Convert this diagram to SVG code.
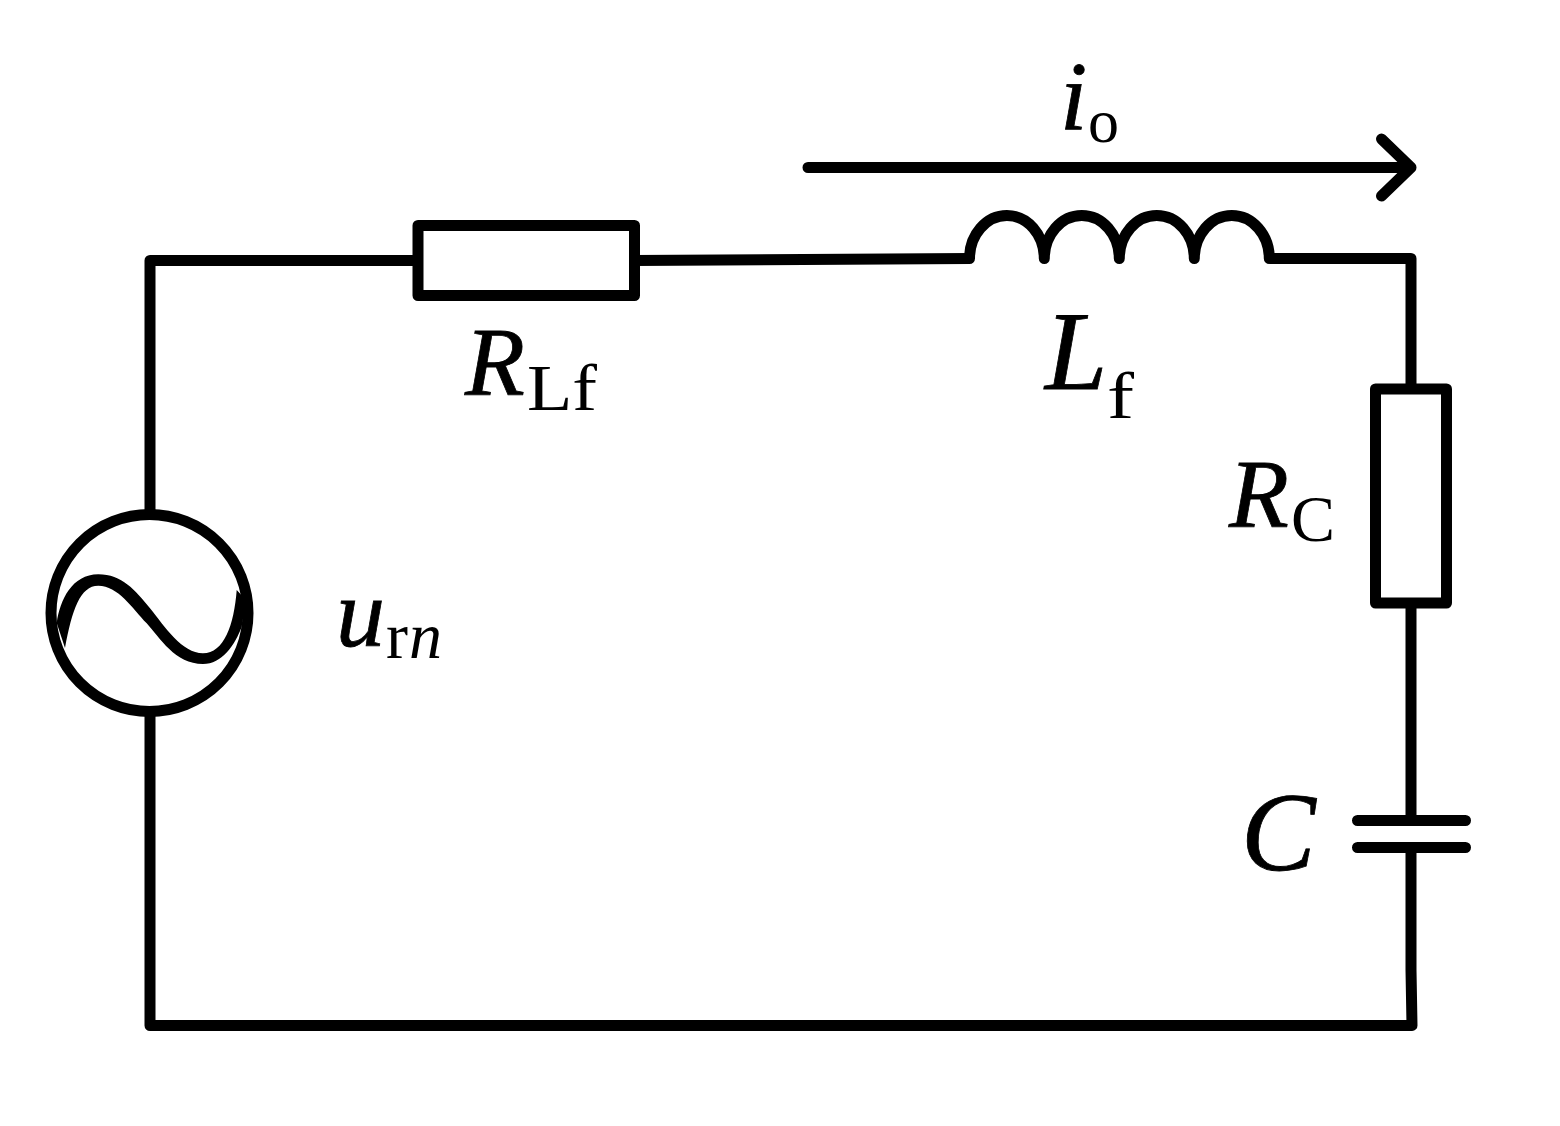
<svg xmlns="http://www.w3.org/2000/svg" width="1560" height="1126" viewBox="0 0 1560 1126">
<style>
.w{fill:none;stroke:#000;stroke-width:11;stroke-linecap:round;stroke-linejoin:round}
.c{fill:none;stroke:#000;stroke-width:11;stroke-linecap:butt;stroke-linejoin:round}
.b{fill:none;stroke:#000;stroke-width:11;stroke-linejoin:round}
text{font-family:"Liberation Serif","Times New Roman",serif;fill:#000}
.i{font-style:italic;font-size:98px;stroke:#000;stroke-width:.8}
.l{font-style:italic;font-size:112px;stroke:#000;stroke-width:.8}
.s{font-size:66px}
.si{font-style:italic;font-size:66px}
</style>
<rect width="1560" height="1126" fill="#fff"/>
<g id="connectors">
<path class="c" d="M150 512V260.500H418M634 260.500L970 258.500M1270 258.500H1411V388M1411 603V820M1411 848V970L1412 1025.500H150V712"/>
<path class="w" d="M808 167.500H1411M1381.500 139L1411 167.500L1381.500 196"/>
</g>
<g id="source"><circle class="b" cx="149.500" cy="613" r="98.500"/>
<path d="M56.700 623C60 600 72 574.300 98.300 574.300C122 574.300 135 590 150 608.300C165 627 182 653.300 203 653.300C224 653.300 234 625 236.700 590L246 600L241.700 626.700C235 645 222 664 203 664C175 664 160 638 146.700 623.300C132 608 118 585.700 98.300 585.700C80 585.700 72 610 65 648Z" fill="#000"/>
<text x="336" y="646" class="i">u</text><text x="386" y="658" class="s">r</text><text x="409" y="658" class="si">n</text></g>
<g id="RLf"><rect class="b" x="418" y="225.500" width="216.500" height="70"/>
<text x="465" y="395" class="i">R</text><text x="527" y="410" class="s" textLength="70" lengthAdjust="spacingAndGlyphs">Lf</text></g>
<g id="Lf"><path class="w" d="M969.500 258.500A37.400 43 0 0 1 1044.300 258.500A37.500 43 0 0 1 1119.300 258.500A37.500 43 0 0 1 1194.300 258.500A37.500 43 0 0 1 1269.300 258.500"/>
<text x="1045" y="389" class="l">L</text><text x="1107" y="418" class="s" textLength="27" lengthAdjust="spacingAndGlyphs">f</text></g>
<g id="RC"><rect class="b" x="1375.500" y="389" width="71" height="214"/>
<text x="1229" y="527" class="i">R</text><text x="1291" y="541" class="s">C</text></g>
<g id="C"><path class="w" d="M1357.500 820.500H1465.500M1357.500 847.500H1465.500"/>
<text x="1241" y="870" class="l">C</text></g>
<g id="io"><text x="1060" y="129" class="i">i</text><text x="1088" y="142" class="s" font-size="62" style="font-size:62px">o</text></g>
</svg>
